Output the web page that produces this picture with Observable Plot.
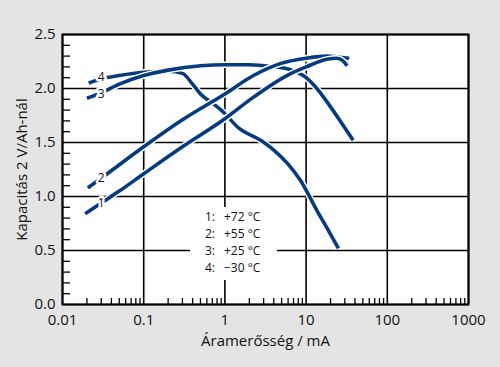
<!DOCTYPE html>
<html><head><meta charset="utf-8">
<script src="https://cdn.jsdelivr.net/npm/d3@7"></script>
<script src="https://cdn.jsdelivr.net/npm/@observablehq/plot@0.6"></script>
<style>
html,body{margin:0;padding:0;background:#e4e4e4;}
#wrap{position:relative;width:500px;height:367px;font-family:"Open Sans",sans-serif;color:#111;}
#legend{position:absolute;left:190px;top:207px;width:87px;height:73px;background:#fff;font-size:12px;line-height:17px;box-sizing:border-box;padding:1px 0 0 15px;}
#legend .row{display:flex;white-space:nowrap;}
#legend .k{width:19px;}
</style></head>
<body>
<div id="wrap"><div id="legend"></div></div>
<script>
// Curve data (current in mA, capacity)
const current1  = [0.019, 0.03, 0.05, 0.1, 0.3, 1, 2.25, 5.8, 10, 18, 24, 28, 32];
const capacity1 = [0.84, 0.94, 1.05, 1.21, 1.46, 1.72, 1.92, 2.12, 2.20, 2.27, 2.28, 2.26, 2.21];
const current2  = [0.0205, 0.03, 0.1, 0.3, 1, 2.25, 4.8, 10, 18, 26, 34];
const capacity2 = [1.08, 1.17, 1.46, 1.71, 1.95, 2.12, 2.23, 2.28, 2.30, 2.29, 2.28];
const current3  = [0.02, 0.03, 0.05, 0.1, 0.2, 0.5, 1, 2, 4, 6, 10, 15, 20, 28, 38];
const capacity3 = [1.91, 1.96, 2.04, 2.12, 2.17, 2.21, 2.22, 2.22, 2.20, 2.18, 2.10, 1.96, 1.83, 1.67, 1.52];
const current4  = [0.021, 0.03, 0.05, 0.1, 0.2, 0.3, 0.4, 0.5, 0.7, 0.9, 1.5, 2.75, 4, 6, 8.5, 13.6, 19, 25];
const capacity4 = [2.05, 2.09, 2.12, 2.15, 2.16, 2.14, 2.04, 1.95, 1.865, 1.80, 1.63, 1.52, 1.43, 1.30, 1.15, 0.87, 0.68, 0.52];

const seriesNames = ["1", "2", "3", "4"];
const legendTemps = ["+72 °C", "+55 °C", "+25 °C", "\u221230 °C"];
const labelCurrent = 0.03;

const majorX = [0.01, 0.1, 1, 10, 100, 1000];
const majorY = [0, 0.5, 1.0, 1.5, 2.0, 2.5];
const minorX = [0.01, 0.1, 1, 10, 100].flatMap(d => [2,3,4,5,6,7,8,9].map(k => k * d));
const minorY = d3.range(1, 25).map(i => i / 10).filter(v => Math.abs(v * 2 - Math.round(v * 2)) > 1e-9);

const xAxisLabel = "Áramerősség / mA";
const yAxisLabel = "Kapacitás 2 V/Ah-nál";

const lineColor = "#063b7f";

const currents = [current1, current2, current3, current4];
const capacities = [capacity1, capacity2, capacity3, capacity4];
const rows = seriesNames.flatMap((n, si) => currents[si].map((c, i) => ({series: n, current: c, capacity: capacities[si][i]})));
const labelRows = rows.filter(r => r.current === labelCurrent);

const drawOrder = ["4", "3", "2", "1"];
const lineMarks = drawOrder.flatMap(n => {
  const d = rows.filter(r => r.series === n);
  return [
    Plot.line(d, {x: "current", y: "capacity", stroke: "white", strokeWidth: 6.5, strokeLinecap: "butt", curve: "monotone-x"}),
    Plot.line(d, {x: "current", y: "capacity", stroke: lineColor, strokeWidth: 3.6, strokeLinecap: "butt", curve: "monotone-x"})
  ];
});

const W = 500, H = 367, mL = 62, mR = 32, mT = 34, mB = 63;
const innerW = W - mL - mR, innerH = H - mT - mB;

const labelOpts = {x: "current", y: "capacity", text: "series", fontSize: 12, fill: "#111", stroke: "white", strokeWidth: 5};

const chart = Plot.plot({
  width: W, height: H,
  marginLeft: mL, marginRight: mR, marginTop: mT, marginBottom: mB,
  style: {background: "transparent", fontFamily: "Open Sans", fontSize: "15px", color: "#111"},
  x: {type: "log", domain: [0.01, 1000]},
  y: {domain: [0, 2.5]},
  marks: [
    Plot.frame({fill: "white", stroke: null}),
    Plot.ruleX(majorX, {stroke: "#000", strokeWidth: 1.6}),
    Plot.ruleY(majorY, {stroke: "#000", strokeWidth: 1.6}),
    Plot.ruleX(minorX, {insetTop: innerH - 6, stroke: "#000", strokeWidth: 1.3}),
    Plot.ruleY(minorY, {insetRight: innerW - 8, stroke: "#000", strokeWidth: 1.3}),
    ...lineMarks,
    Plot.text(labelRows.filter(r => r.series === "4"), {...labelOpts, dy: -2}),
    Plot.text(labelRows.filter(r => r.series === "3"), {...labelOpts, dy: 1}),
    Plot.text(labelRows.filter(r => r.series === "1" || r.series === "2"), {...labelOpts, dy: 0}),
    Plot.frame({stroke: "#000", strokeWidth: 2}),
    Plot.axisX({ticks: majorX, tickSize: 0, tickPadding: 10, tickFormat: d => String(d), fontSize: 15,
      label: xAxisLabel, labelAnchor: "center", labelArrow: "none", labelOffset: 41}),
    Plot.axisY({ticks: majorY, tickSize: 0, tickPadding: 7, tickFormat: d3.format(".1f"), fontSize: 15,
      label: yAxisLabel, labelAnchor: "center", labelArrow: "none", labelOffset: 46})
  ]
});
const wrap = document.getElementById("wrap");
wrap.insertBefore(chart, wrap.firstChild);

const legend = document.getElementById("legend");
seriesNames.forEach((n, i) => {
  const row = document.createElement("div");
  row.className = "row";
  row.innerHTML = `<span class="k">${n}:</span><span>${legendTemps[i]}</span>`;
  legend.appendChild(row);
});
</script>
</body></html>
